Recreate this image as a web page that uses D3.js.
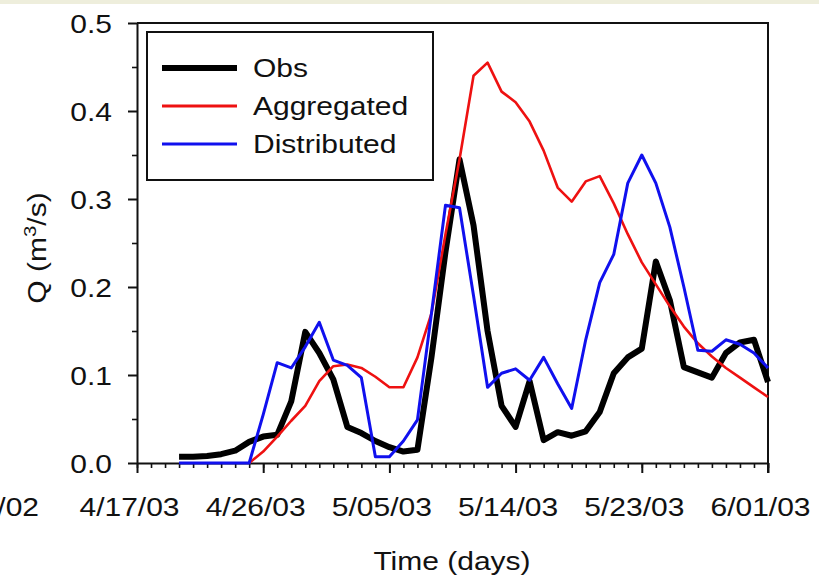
<!DOCTYPE html>
<html>
<head>
<meta charset="utf-8">
<script src="https://cdn.jsdelivr.net/npm/d3@7"></script>
<style>
  html, body { margin: 0; padding: 0; background: #ffffff; }
  svg { display: block; }
  text { font-family: "Liberation Sans", Arial, sans-serif; fill: #111; }
</style>
</head>
<body>
<svg id="chart" width="819" height="578"></svg>
<script>
// ---------------- data ----------------
const xTickDates  = ["2003-04-17", "2003-04-26", "2003-05-05", "2003-05-14", "2003-05-23", "2003-06-01"];
const xTickLabels = ["4/17/03", "4/26/03", "5/05/03", "5/14/03", "5/23/03", "6/01/03"];
const yTickValues = [0.0, 0.1, 0.2, 0.3, 0.4, 0.5];
const yTickLabels = ["0.0", "0.1", "0.2", "0.3", "0.4", "0.5"];
const seriesNames = ["Obs", "Aggregated", "Distributed"];

// daily values; first value belongs to the start date
const obsStart = "2003-04-20";
const obsValues = [0.007, 0.007, 0.008, 0.010, 0.014, 0.024, 0.030, 0.032, 0.070, 0.149,
                   0.125, 0.095, 0.041, 0.034, 0.025, 0.018, 0.013, 0.015, 0.120, 0.240,
                   0.345, 0.270, 0.150, 0.065, 0.041, 0.093, 0.026, 0.035, 0.031, 0.036,
                   0.058, 0.102, 0.120, 0.130, 0.229, 0.185, 0.109, 0.103, 0.097, 0.125,
                   0.137, 0.140, 0.092];

const aggStart = "2003-04-25";
const aggValues = [0.000, 0.013, 0.030, 0.048, 0.065, 0.093, 0.110, 0.112, 0.108, 0.098,
                   0.086, 0.086, 0.120, 0.170, 0.260, 0.345, 0.440, 0.455, 0.422, 0.410,
                   0.388, 0.355, 0.313, 0.297, 0.320, 0.326, 0.295, 0.260, 0.228, 0.203,
                   0.178, 0.155, 0.136, 0.121, 0.108, 0.097, 0.086, 0.075];

const distStart = "2003-04-20";
const distValues = [0.000, 0.000, 0.000, 0.000, 0.000, 0.000, 0.055, 0.114, 0.108, 0.132,
                    0.160, 0.117, 0.111, 0.097, 0.007, 0.007, 0.025, 0.049, 0.170, 0.293,
                    0.290, 0.190, 0.086, 0.102, 0.107, 0.094, 0.120, 0.090, 0.062, 0.140,
                    0.205, 0.237, 0.318, 0.350, 0.318, 0.268, 0.200, 0.128, 0.127, 0.140,
                    0.135, 0.125, 0.108];

// ---------------- helpers ----------------
const parse = d3.utcParse("%Y-%m-%d");
const DAY = 86400000;
function toPoints(start, values) {
  const s = parse(start).getTime();
  return values.map((v, i) => ({ date: new Date(s + i * DAY), value: v }));
}

const svg = d3.select("#chart");
const L = 137, R = 768, T = 23, B = 463;
const FS = 25, SX = 1.2;   // font size and horizontal glyph stretch

// page frame strip at top
svg.append("rect").attr("x", 0).attr("y", 0).attr("width", 819).attr("height", 4).attr("fill", "#eeeedc");

const x = d3.scaleUtc().domain([parse(xTickDates[0]), parse(xTickDates[xTickDates.length - 1])]).range([L, R]);
const y = d3.scaleLinear().domain([0, 0.5]).range([B, T]);

// ---------------- axes ----------------
// minor x ticks (daily)
const minorDays = d3.utcDay.range(x.domain()[0], d3.utcDay.offset(x.domain()[1], 1));
svg.append("g").attr("transform", `translate(0,${B})`)
  .call(d3.axisBottom(x).tickValues(minorDays).tickSize(5).tickSizeOuter(0).tickFormat(""))
  .call(g => g.select(".domain").remove())
  .call(g => g.selectAll("line").attr("stroke", "#111").attr("stroke-width", 1.6));

const xMajor = svg.append("g").attr("transform", `translate(0,${B})`)
  .call(d3.axisBottom(x).tickValues(xTickDates.map(parse)).tickSize(10).tickSizeOuter(0)
        .tickFormat((d, i) => xTickLabels[i]));
xMajor.select(".domain").attr("stroke", "#111").attr("stroke-width", 2);
xMajor.selectAll("line").attr("stroke", "#111").attr("stroke-width", 2);
xMajor.selectAll("text")
  .attr("x", null).attr("y", null).attr("dy", null)
  .attr("transform", `translate(-8,53) scale(${SX},1)`)
  .attr("font-size", FS).attr("font-family", "Liberation Sans, Arial, sans-serif")
  .attr("fill", "#111");

// clipped neighbour label at far left
svg.append("text").attr("text-anchor", "end")
  .attr("transform", `translate(39,516) scale(${SX},1)`)
  .attr("font-size", FS).text("/02");

// y axis minor ticks
svg.append("g").attr("transform", `translate(${L},0)`)
  .call(d3.axisLeft(y).tickValues(d3.range(0.05, 0.5, 0.1)).tickSize(5).tickSizeOuter(0).tickFormat(""))
  .call(g => g.select(".domain").remove())
  .call(g => g.selectAll("line").attr("stroke", "#111").attr("stroke-width", 1.6));

const yAxis = svg.append("g").attr("transform", `translate(${L},0)`)
  .call(d3.axisLeft(y).tickValues(yTickValues).tickSize(9).tickSizeOuter(0)
        .tickFormat((d, i) => yTickLabels[i]));
yAxis.select(".domain").attr("stroke", "#111").attr("stroke-width", 2);
yAxis.selectAll("line").attr("stroke", "#111").attr("stroke-width", 2);
yAxis.selectAll("text")
  .attr("x", null).attr("dy", null).attr("text-anchor", "end")
  .attr("transform", `translate(-25,9) scale(${SX},1)`)
  .attr("font-size", FS).attr("font-family", "Liberation Sans, Arial, sans-serif")
  .attr("fill", "#111");

// top and right frame
svg.append("path")
  .attr("d", d3.line()([[L, T], [R, T], [R, B + 10]]))
  .attr("fill", "none").attr("stroke", "#111").attr("stroke-width", 2);

// axis titles
svg.append("text").attr("text-anchor", "middle")
  .attr("transform", `translate(452,570) scale(${SX},1)`)
  .attr("font-size", FS).text("Time (days)");

const yt = svg.append("text").attr("text-anchor", "middle")
  .attr("transform", `translate(46,248) rotate(-90) scale(${SX},1)`)
  .attr("font-size", FS);
yt.append("tspan").text("Q (m");
yt.append("tspan").attr("font-size", 17).attr("dy", -10).text("3");
yt.append("tspan").attr("dy", 10).text("/s)");

// ---------------- series ----------------
const line = d3.line().x(d => x(d.date)).y(d => y(d.value));
const series = [
  { name: seriesNames[0], pts: toPoints(obsStart, obsValues), color: "#000000", width: 6 },
  { name: seriesNames[1], pts: toPoints(aggStart, aggValues), color: "#ee1111", width: 2.6 },
  { name: seriesNames[2], pts: toPoints(distStart, distValues), color: "#1010ee", width: 3 }
];
series.forEach(s => {
  svg.append("path").datum(s.pts).attr("d", line)
    .attr("fill", "none").attr("stroke", s.color).attr("stroke-width", s.width)
    .attr("stroke-linejoin", "round").attr("stroke-linecap", "butt");
});

// ---------------- legend ----------------
svg.append("rect").attr("x", 147).attr("y", 32).attr("width", 286).attr("height", 148)
  .attr("fill", "#ffffff").attr("stroke", "#111").attr("stroke-width", 2);
const legY = [68, 106, 144];
series.forEach((s, i) => {
  svg.append("line").attr("x1", 162).attr("x2", 237).attr("y1", legY[i]).attr("y2", legY[i])
    .attr("stroke", s.color).attr("stroke-width", i === 0 ? 6 : 3);
  svg.append("text").attr("transform", `translate(253,${legY[i] + 9}) scale(${SX},1)`)
    .attr("font-size", FS).text(s.name);
});
</script>
</body>
</html>
